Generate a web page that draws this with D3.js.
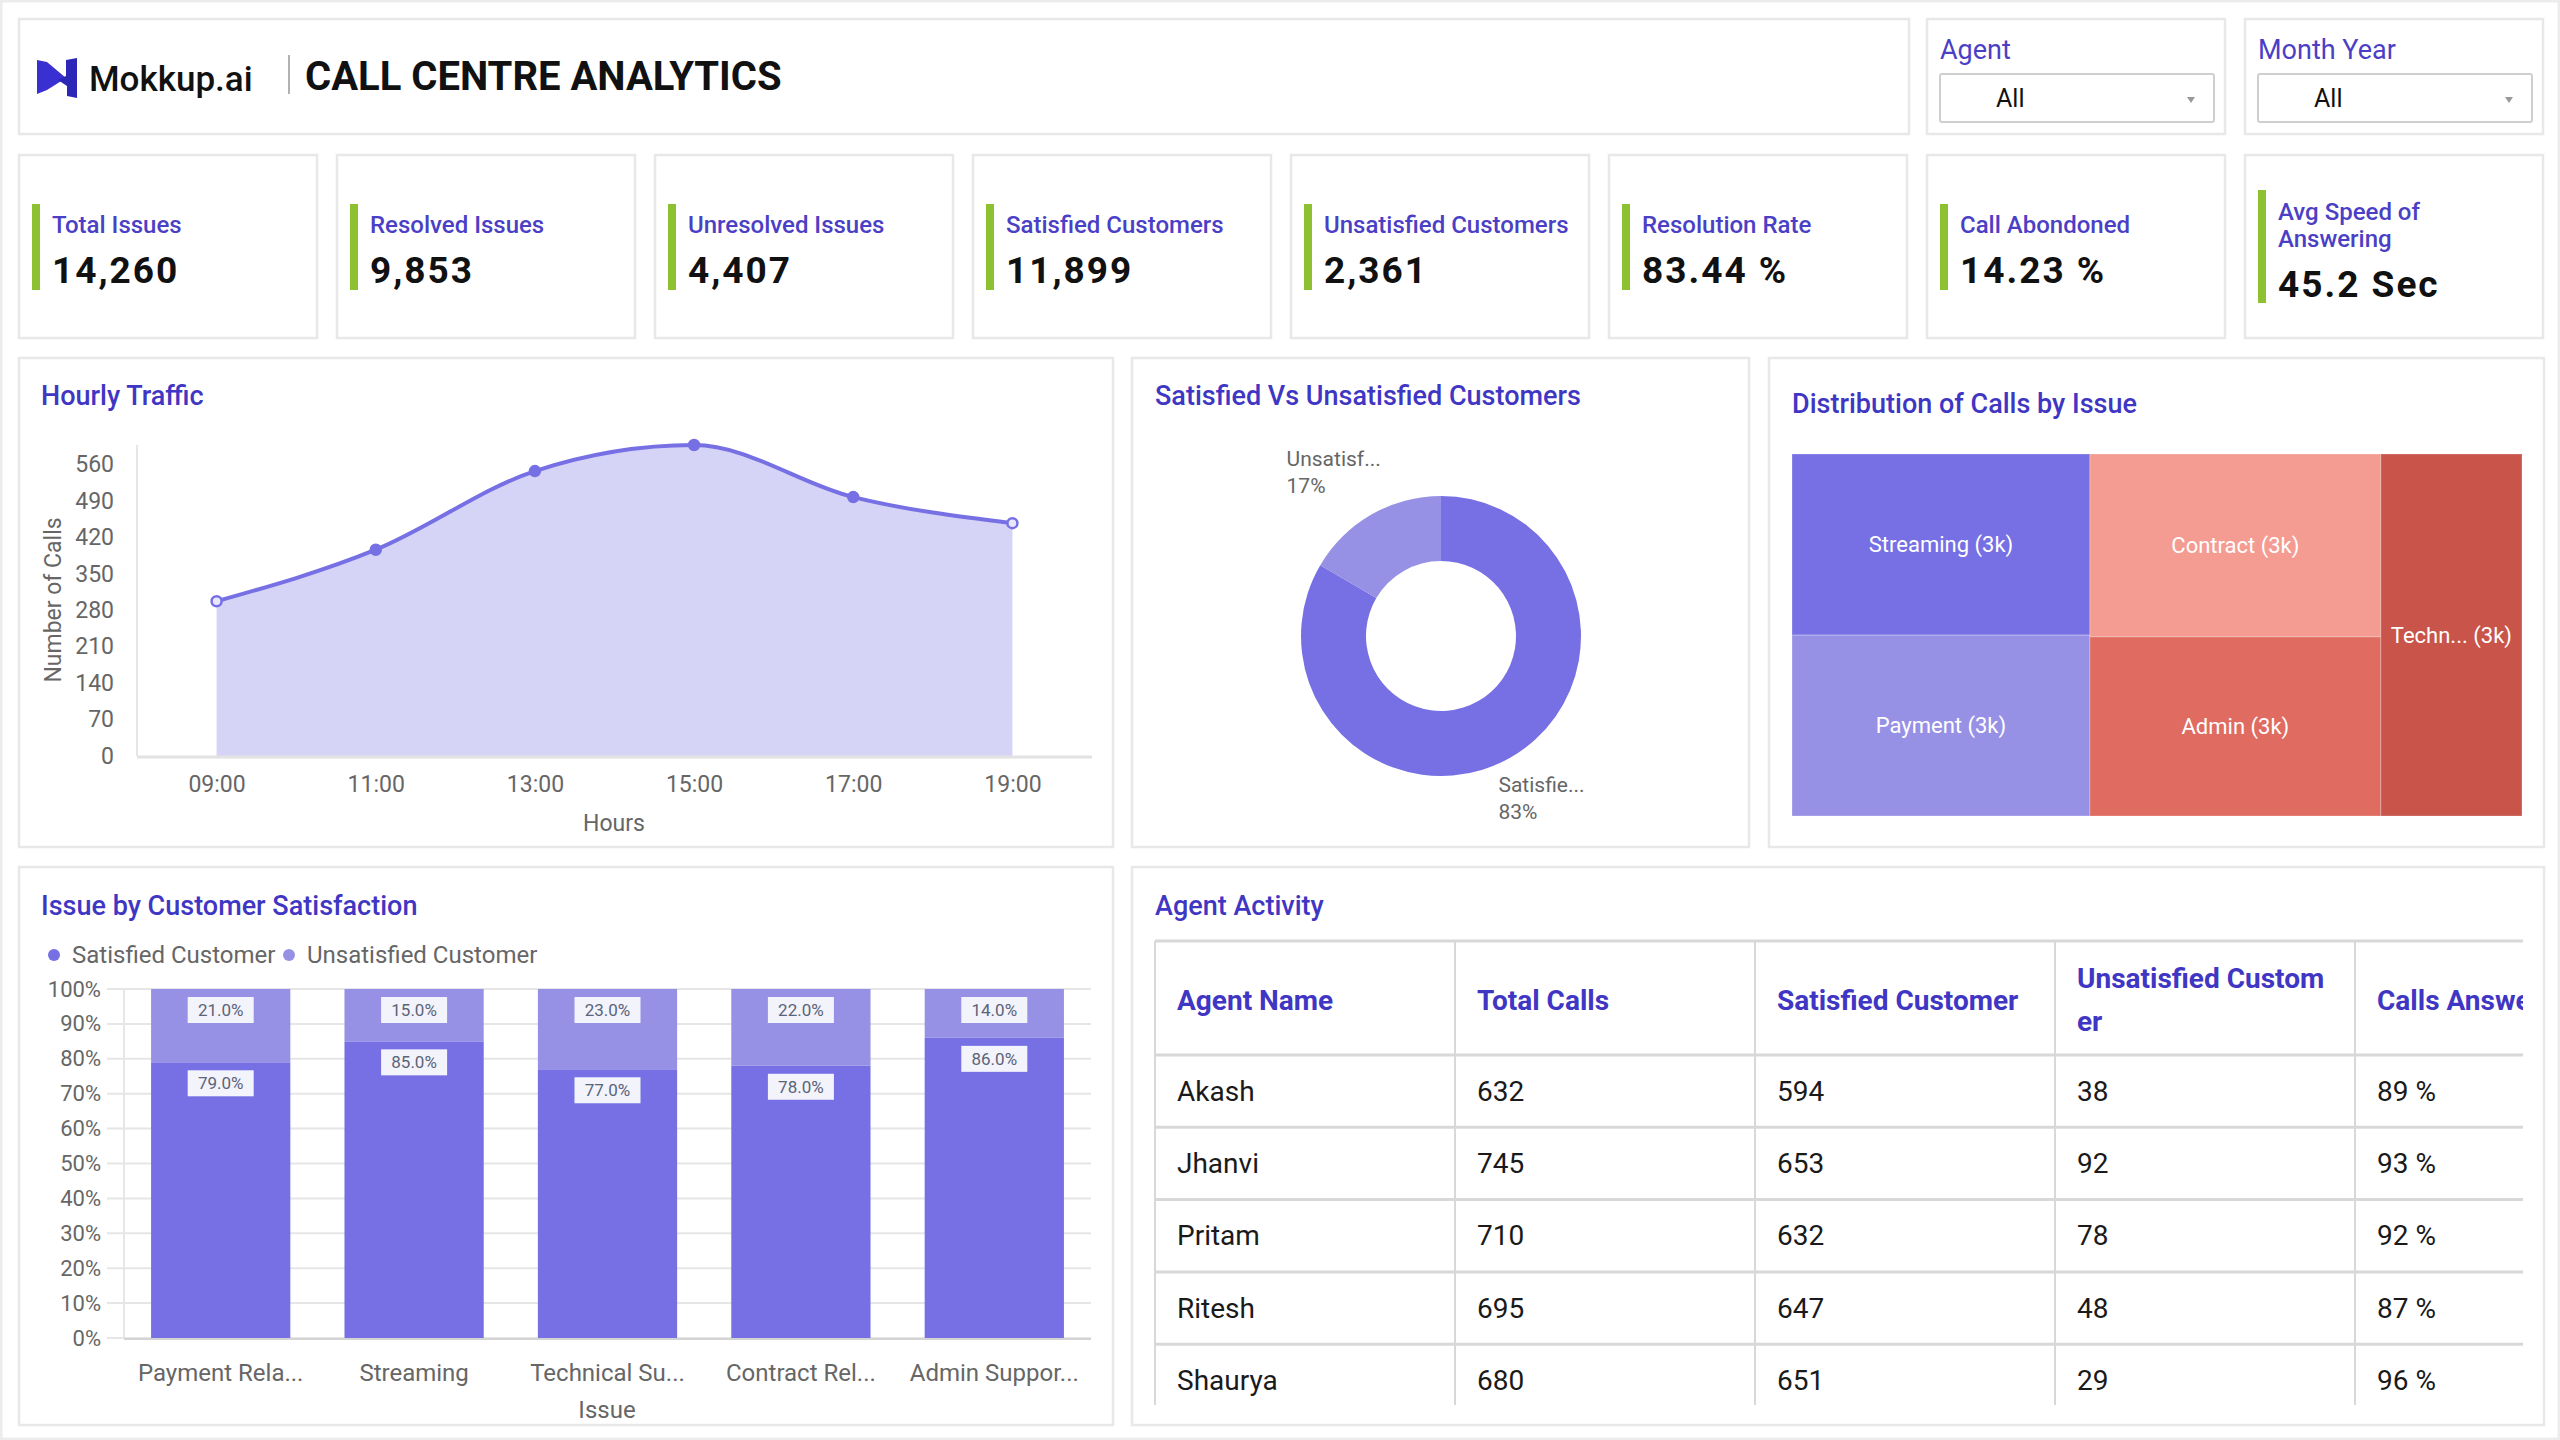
<!DOCTYPE html>
<html>
<head>
<meta charset="utf-8">
<script src="https://cdn.jsdelivr.net/npm/d3@7"></script>
<style>
  body { margin: 0; background: #fff; }
  svg { display: block; font-family: Roboto, "Open Sans", sans-serif; }
</style>
</head>
<body>
<svg id="dash"></svg>
<script>
// ---- data ----
const kpiLabels = ["Total Issues", "Resolved Issues", "Unresolved Issues", "Satisfied Customers",
  "Unsatisfied Customers", "Resolution Rate", "Call Abondoned", "Avg Speed of\nAnswering"];
const kpiValues = ["14,260", "9,853", "4,407", "11,899", "2,361", "83.44 %", "14.23 %", "45.2 Sec"];

const hours = ["09:00", "11:00", "13:00", "15:00", "17:00", "19:00"];
const hourlyCalls = [297, 396, 547, 597, 497, 447];
const hourlyTicks = [0, 70, 140, 210, 280, 350, 420, 490, 560];

const satLabels = ["Satisfie...", "Unsatisf..."];
const satCounts = [11899, 2361];

const treeIssues = ["Streaming", "Payment", "Contract", "Admin", "Technical"];
const treeLabels = ["Streaming", "Payment", "Contract", "Admin", "Techn..."];
const treeCalls = [2912, 2908, 2870, 2812, 2758];

const barIssues = ["Payment Related", "Streaming", "Technical Support", "Contract Related", "Admin Support"];
const barTickLabels = ["Payment Rela...", "Streaming", "Technical Su...", "Contract Rel...", "Admin Suppor..."];
const satisfiedPct = [79, 85, 77, 78, 86];
const unsatisfiedPct = [21, 15, 23, 22, 14];
const pctTicks = [0, 10, 20, 30, 40, 50, 60, 70, 80, 90, 100];

const agentHeaders = ["Agent Name", "Total Calls", "Satisfied Customer", "Unsatisfied Custom\ner", "Calls Answered"];
const agents = ["Akash", "Jhanvi", "Pritam", "Ritesh", "Shaurya"];
const agentTotal = [632, 745, 710, 695, 680];
const agentSatisfied = [594, 653, 632, 647, 651];
const agentUnsatisfied = [38, 92, 78, 48, 29];
const agentAnswered = [89, 93, 92, 87, 96];

// ---- styling ----
const TITLE = "#3f36c4";
const LABEL = "#4b3fc6";
const PURPLE = "#7670e4";
const LAVENDER = "#9791e5";
const GREY = "#666";
const BORDER = "#e8e8e8";

const svg = d3.select("#dash").attr("width", 2560).attr("height", 1440);

svg.append("rect").attr("x", 1).attr("y", 1).attr("width", 2558).attr("height", 1438)
  .attr("fill", "#fff").attr("stroke", "#ececec").attr("stroke-width", 3);

function panel(x, y, w, h) {
  svg.append("rect").attr("x", x).attr("y", y).attr("width", w).attr("height", h)
    .attr("fill", "#fff").attr("stroke", BORDER).attr("stroke-width", 2.5);
}
function title(x, y, t) {
  svg.append("text").attr("x", x).attr("y", y).text(t)
    .style("font-size", "27px").style("font-weight", 500).style("fill", TITLE);
}

// ---- header ----
panel(19, 19, 1890, 115);
const logo = svg.append("g");
logo.append("path").attr("d", "M37,60 L47,62 L66,78 L47,90 L37,94 Z").attr("fill", "#3a2fd0");
logo.append("path").attr("d", "M66,60 L77,58 L77,98 L67,96 L67,86 L58,80 L66,76 Z").attr("fill", "#2d27b8");
svg.append("text").attr("x", 89).attr("y", 91).text("Mokkup.ai")
  .style("font-size", "35px").style("font-weight", 500).style("fill", "#111");
svg.append("line").attr("x1", 289).attr("x2", 289).attr("y1", 55).attr("y2", 94)
  .attr("stroke", "#999").attr("stroke-width", 1.5);
svg.append("text").attr("x", 305).attr("y", 90).text("CALL CENTRE ANALYTICS")
  .style("font-size", "40px").style("font-weight", 700).style("fill", "#111");

// ---- slicers ----
[["Agent", 1927], ["Month Year", 2245]].forEach(([lab, x0]) => {
  panel(x0, 19, 298, 115);
  svg.append("text").attr("x", x0 + 13).attr("y", 59).text(lab)
    .style("font-size", "27px").style("fill", LABEL);
  svg.append("rect").attr("x", x0 + 13).attr("y", 74).attr("width", 274).attr("height", 48)
    .attr("fill", "#fff").attr("stroke", "#cfcfcf").attr("stroke-width", 2).attr("rx", 2);
  svg.append("text").attr("x", x0 + 69).attr("y", 107).text("All")
    .style("font-size", "25px").style("fill", "#111");
  svg.append("path").attr("d", `M${x0 + 260},${97} l8,0 l-4,6 Z`).attr("fill", "#999");
});

// ---- KPI cards ----
kpiLabels.forEach((lab, i) => {
  const x0 = 19 + 318 * i;
  panel(x0, 155, 298, 183);
  const lines = lab.split("\n");
  const two = lines.length > 1;
  svg.append("rect").attr("x", x0 + 13).attr("y", two ? 190 : 204)
    .attr("width", 8).attr("height", two ? 113 : 86).attr("fill", "#8ec131");
  lines.forEach((l, j) => {
    svg.append("text").attr("x", x0 + 33).attr("y", (two ? 220 : 233) + j * 27).text(l)
      .style("font-size", "24px").style("font-weight", 500).style("fill", LABEL);
  });
  svg.append("text").attr("x", x0 + 33).attr("y", two ? 297 : 283).text(kpiValues[i])
    .style("font-size", "37px").style("font-weight", 700).style("letter-spacing", "2px")
    .style("fill", "#111");
});

// ---- Hourly Traffic ----
panel(19, 358, 1094, 489);
title(41, 405, "Hourly Traffic");
const hx = d3.scalePoint().domain(hours).range([137, 1092]).padding(0.5);
const hy = d3.scaleLinear().domain([0, d3.max(hourlyCalls)]).range([756, 445]);
const hourly = hours.map((h, i) => ({ h, v: hourlyCalls[i] }));

svg.append("line").attr("x1", 137).attr("x2", 137).attr("y1", 445).attr("y2", 756)
  .attr("stroke", "#e6e6e6").attr("stroke-width", 2);
svg.append("path").datum(hourly).attr("fill", "#d6d4f6")
  .attr("d", d3.area().x(d => hx(d.h)).y0(hy(0)).y1(d => hy(d.v)).curve(d3.curveMonotoneX));
svg.append("line").attr("x1", 137).attr("x2", 1092).attr("y1", 757).attr("y2", 757)
  .attr("stroke", "#e2e2e2").attr("stroke-width", 3);
svg.append("path").datum(hourly).attr("fill", "none").attr("stroke", PURPLE).attr("stroke-width", 4)
  .attr("d", d3.line().x(d => hx(d.h)).y(d => hy(d.v)).curve(d3.curveMonotoneX));
svg.selectAll(".hdot").data(hourly).join("circle").attr("class", "hdot")
  .attr("cx", d => hx(d.h)).attr("cy", d => hy(d.v)).attr("r", 5)
  .attr("fill", (d, i) => (i === 0 || i === hourly.length - 1) ? "#e8e7fb" : PURPLE)
  .attr("stroke", PURPLE).attr("stroke-width", 2.5);

const hyAxis = svg.append("g").attr("transform", "translate(114,0)")
  .call(d3.axisLeft(hy).tickValues(hourlyTicks).tickSize(0).tickPadding(0));
hyAxis.select(".domain").remove();
hyAxis.selectAll("text").style("font-size", "23px").style("fill", GREY).style("font-family", "Roboto");
const hxAxis = svg.append("g").attr("transform", "translate(0,776)")
  .call(d3.axisBottom(hx).tickSize(0).tickPadding(0));
hxAxis.select(".domain").remove();
hxAxis.selectAll("text").style("font-size", "23px").style("fill", GREY).style("font-family", "Roboto");
svg.append("text").attr("x", 614).attr("y", 831).attr("text-anchor", "middle").text("Hours")
  .style("font-size", "23px").style("fill", GREY);
svg.append("text").attr("transform", "translate(61,600) rotate(-90)").attr("text-anchor", "middle")
  .text("Number of Calls").style("font-size", "23px").style("fill", GREY);

// ---- Satisfied vs Unsatisfied donut ----
panel(1132, 358, 617, 489);
title(1155, 405, "Satisfied Vs Unsatisfied Customers");
const pie = d3.pie().sort(null).value(d => d)(satCounts);
const arc = d3.arc().innerRadius(75).outerRadius(140);
const labelArc = d3.arc().innerRadius(180).outerRadius(180);
const donut = svg.append("g").attr("transform", "translate(1441,636)");
donut.selectAll("path").data(pie).join("path").attr("d", arc)
  .attr("fill", (d, i) => [PURPLE, LAVENDER][i]);
const satTotal = d3.sum(satCounts);
pie.forEach((p, i) => {
  const [lx, ly] = labelArc.centroid(p);
  const left = lx < 0;
  const tx = left ? lx - 65 : lx - 32;
  const ty = left ? ly - 14 : ly;
  const t = donut.append("text").attr("x", tx).attr("y", ty)
    .style("font-size", "21px").style("fill", GREY);
  t.append("tspan").attr("x", tx).text(satLabels[i]);
  t.append("tspan").attr("x", tx).attr("dy", 27).text(Math.round(p.data / satTotal * 100) + "%");
});

// ---- Distribution treemap ----
panel(1769, 358, 775, 489);
title(1792, 413, "Distribution of Calls by Issue");
const treeColors = ["#7670e4", "#9791e5", "#f59c92", "#e06b60", "#c8544a"];
const root = d3.hierarchy({ children: treeIssues.map((n, i) => ({ name: n, label: treeLabels[i], value: treeCalls[i], color: treeColors[i] })) })
  .sum(d => d.value || 0).sort((a, b) => b.value - a.value);
d3.treemap().size([730, 362]).tile(d3.treemapSquarify)(root);
const tm = svg.append("g").attr("transform", "translate(1792,454)");
const cell = tm.selectAll("g").data(root.leaves()).join("g");
cell.append("rect").attr("x", d => d.x0).attr("y", d => d.y0)
  .attr("width", d => d.x1 - d.x0).attr("height", d => d.y1 - d.y0)
  .attr("fill", d => d.data.color).attr("stroke", "rgba(255,255,255,0.18)").attr("stroke-width", 1.5);
cell.append("text").attr("x", d => (d.x0 + d.x1) / 2).attr("y", d => (d.y0 + d.y1) / 2)
  .attr("text-anchor", "middle").attr("dominant-baseline", "central")
  .text(d => `${d.data.label} (${d3.format(".0s")(d.value)})`)
  .style("font-size", "22px").style("fill", "#fff");

// ---- Issue by Customer Satisfaction ----
panel(19, 867, 1094, 558);
title(41, 915, "Issue by Customer Satisfaction");
[["Satisfied Customer", PURPLE, 54], ["Unsatisfied Customer", LAVENDER, 289]].forEach(([t, c, x]) => {
  svg.append("circle").attr("cx", x).attr("cy", 955).attr("r", 6).attr("fill", c);
  svg.append("text").attr("x", x + 18).attr("y", 955).attr("dominant-baseline", "central").text(t)
    .style("font-size", "24px").style("fill", GREY);
});
const bx = d3.scaleBand().domain(barIssues).range([124, 1091]).paddingInner(0.28).paddingOuter(0.14);
const by = d3.scaleLinear().domain([0, 100]).range([1338, 989]);
svg.append("g").selectAll("line").data(pctTicks).join("line")
  .attr("x1", 107).attr("x2", 1091).attr("y1", d => by(d)).attr("y2", d => by(d))
  .attr("stroke", "#e6e6e6").attr("stroke-width", 2);
svg.append("line").attr("x1", 124).attr("x2", 124).attr("y1", 989).attr("y2", 1338)
  .attr("stroke", "#e6e6e6").attr("stroke-width", 2);
const barRows = barIssues.map((k, i) => ({ issue: k, sat: satisfiedPct[i], unsat: unsatisfiedPct[i] }));
const stacked = d3.stack().keys(["sat", "unsat"])(barRows);
stacked.forEach((layer, li) => {
  const g = svg.append("g");
  g.selectAll("rect").data(layer).join("rect")
    .attr("x", d => bx(d.data.issue)).attr("width", bx.bandwidth())
    .attr("y", d => by(d[1])).attr("height", d => by(d[0]) - by(d[1]))
    .attr("fill", li === 0 ? PURPLE : LAVENDER);
  g.selectAll("g").data(layer).join("g").each(function (d) {
    const cx = bx(d.data.issue) + bx.bandwidth() / 2;
    const top = by(d[1]) + 8;
    const s = d3.select(this);
    s.append("rect").attr("x", cx - 33).attr("y", top).attr("width", 66).attr("height", 26).attr("fill", "#f3f3fc");
    s.append("text").attr("x", cx).attr("y", top + 13).attr("text-anchor", "middle").attr("dominant-baseline", "central")
      .text(d3.format(".1f")(d[1] - d[0]) + "%").style("font-size", "17px").style("fill", "#5a6478");
  });
});
svg.append("line").attr("x1", 124).attr("x2", 1091).attr("y1", 1339).attr("y2", 1339)
  .attr("stroke", "#d4d4d4").attr("stroke-width", 2);
const byAxis = svg.append("g").attr("transform", "translate(101,0)")
  .call(d3.axisLeft(by).tickValues(pctTicks).tickFormat(d => d + "%").tickSize(0).tickPadding(0));
byAxis.select(".domain").remove();
byAxis.selectAll("text").style("font-size", "22px").style("fill", GREY).style("font-family", "Roboto");
const bxAxis = svg.append("g").attr("transform", "translate(0,1364)")
  .call(d3.axisBottom(bx).tickSize(0).tickPadding(0).tickFormat((d, i) => barTickLabels[i]));
bxAxis.select(".domain").remove();
bxAxis.selectAll("text").style("font-size", "24px").style("fill", GREY).style("font-family", "Roboto");
svg.append("text").attr("x", 607).attr("y", 1418).attr("text-anchor", "middle").text("Issue")
  .style("font-size", "24px").style("fill", GREY);

// ---- Agent Activity table ----
panel(1132, 867, 1412, 558);
title(1155, 915, "Agent Activity");
svg.append("clipPath").attr("id", "tclip").append("rect")
  .attr("x", 1150).attr("y", 935).attr("width", 1373).attr("height", 470);
const tbl = svg.append("g").attr("clip-path", "url(#tclip)");
const colX = d3.scaleLinear().domain([0, 1]).range([1155, 1455]);
const headTop = 941, headBottom = 1055, rowH = 72.3;
const rowY = d3.scaleLinear().domain([0, 1]).range([headBottom, headBottom + rowH]);
const lineColor = "#d8d8d8";
tbl.append("line").attr("x1", 1155).attr("x2", 2523).attr("y1", headTop).attr("y2", headTop)
  .attr("stroke", lineColor).attr("stroke-width", 3);
tbl.selectAll(".hl").data(d3.range(agents.length)).join("line").attr("class", "hl")
  .attr("x1", 1155).attr("x2", 2523).attr("y1", i => rowY(i)).attr("y2", i => rowY(i))
  .attr("stroke", lineColor).attr("stroke-width", 3);
tbl.selectAll(".vl").data(d3.range(agentHeaders.length)).join("line").attr("class", "vl")
  .attr("x1", i => colX(i)).attr("x2", i => colX(i)).attr("y1", headTop).attr("y2", 1410)
  .attr("stroke", lineColor).attr("stroke-width", 2);
agentHeaders.forEach((h, c) => {
  const lines = h.split("\n");
  const y0 = lines.length > 1 ? 978 : 1000;
  lines.forEach((l, j) => {
    tbl.append("text").attr("x", colX(c) + 22).attr("y", y0 + j * 43).attr("dominant-baseline", "central")
      .text(l).style("font-size", "28px").style("font-weight", 700).style("fill", TITLE);
  });
});
const tableRows = agents.map((a, i) => [a, agentTotal[i], agentSatisfied[i], agentUnsatisfied[i], agentAnswered[i] + " %"]);
tableRows.forEach((r, ri) => {
  r.forEach((v, c) => {
    tbl.append("text").attr("x", colX(c) + 22).attr("y", rowY(ri) + rowH / 2).attr("dominant-baseline", "central")
      .text(v).style("font-size", "28px").style("fill", "#1a1a1a");
  });
});
</script>
</body>
</html>
